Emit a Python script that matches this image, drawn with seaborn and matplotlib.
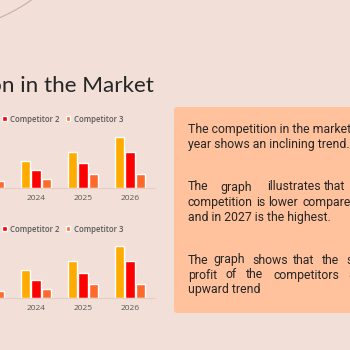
import matplotlib
matplotlib.use("Agg")
import matplotlib.pyplot as plt
import seaborn as sns
import pandas as pd
from matplotlib.patches import FancyBboxPatch, Arc

# ---- data -------------------------------------------------------------
years = ["2023", "2024", "2025", "2026"]
competitors = ["Competitor 1", "Competitor 2", "Competitor 3"]
comp1 = [2.0, 2.7, 3.6, 5.1]
comp2 = [1.3, 1.8, 2.5, 3.6]
comp3 = [0.7, 0.9, 1.4, 1.4]

title = "Competition in the Market"
para1 = ["The competition in the market every", "year shows an inclining trend."]
para2 = [
    ["The", "graph", "illustrates", "that", "the"],
    ["competition", "is", "lower", "compared", "to"],
    "and in 2027 is the highest.",
]
para3 = [
    ["The", "graph", "shows", "that", "the", "sales"],
    ["profit", "of", "the", "competitors", "shows"],
    "upward trend",
]

# ---- style ------------------------------------------------------------
palette = ["#FFAB00", "#FF0000", "#FF6A2C"]
BG = "#F2DFD8"
BOX = "#FFC29D"
GREY = "#595959"
INK = "#262626"

sns.set_theme(style="white")
plt.rcParams["font.family"] = ["Open Sans", "DejaVu Sans"]

W = H = 350
fig = plt.figure(figsize=(3.5, 3.5), dpi=100)
fig.patch.set_facecolor(BG)
renderer = fig.canvas.get_renderer()


def fx(px):
    return px / W


def fy(py):
    return 1 - py / H


df = pd.DataFrame({
    "Year": years * 3,
    "Competitor": [c for c in competitors for _ in years],
    "Value": comp1 + comp2 + comp3,
})


def draw_chart(baseline_px, px_per_unit, legend_px):
    left_px, right_px = 0, 155
    height_px = 140
    ax = fig.add_axes([fx(left_px), fy(baseline_px),
                       (right_px - left_px) / W, height_px / H])
    sns.barplot(data=df, x="Year", y="Value", hue="Competitor",
                palette=palette, saturation=1, width=0.67, gap=0.14,
                ax=ax)
    ax.set_xlim(11 / 47, 166 / 47)
    ax.set_ylim(0, height_px / px_per_unit)
    ax.set_facecolor("none")
    for s in ["left", "right", "top"]:
        ax.spines[s].set_visible(False)
    ax.spines["bottom"].set_color("#E6CEC5")
    ax.spines["bottom"].set_linewidth(0.8)
    ax.set_yticks([])
    ax.set_xlabel("")
    ax.set_ylabel("")
    ax.tick_params(axis="x", length=0, pad=5, labelsize=6, labelcolor=GREY)
    sns.move_legend(
        ax, "center left",
        bbox_to_anchor=(fx(-65), fy(legend_px)),
        bbox_transform=fig.transFigure,
        ncol=3, frameon=False, title=None, borderpad=0,
        handlelength=0.6, handleheight=0.6, handletextpad=0.4,
        columnspacing=0.8, labelcolor=GREY,
        prop={"weight": "semibold", "size": 5.6},
    )
    return ax


draw_chart(188, 10.0, 119)
draw_chart(298, 10.2, 229)

# title, partially running off the left edge
fig.text(fx(154), fy(92.5), title, ha="right", va="baseline",
         fontsize=16.2, family=["Lato", "DejaVu Sans"], weight="normal",
         color=INK)

# decorative arc in the upper-left corner
arc = Arc((-73.4, H + 150), 2 * 183, 2 * 183, transform=None,
          color="#C6AEA8", lw=0.8)
fig.add_artist(arc)

# text panel
box = FancyBboxPatch((fx(174), fy(313)), fx(200), (313 - 107) / H,
                     boxstyle="round,pad=0,rounding_size=0.01",
                     transform=fig.transFigure, facecolor=BOX,
                     edgecolor="none")
fig.add_artist(box)

TXT = dict(fontsize=8.8, color=INK, va="baseline", ha="left",
           family=["Roboto", "DejaVu Sans"])
MIN_GAP = 3.0


def justified_line(words, starts, base):
    """Place words at their justified positions, never closer than a space."""
    end = None
    for w, x in zip(words, starts):
        if end is not None:
            x = max(x, end + MIN_GAP)
        t = fig.text(fx(x), fy(base), w, **TXT)
        end = x + t.get_window_extent(renderer).width


fig.text(fx(188), fy(132.7), para1[0], **TXT)
fig.text(fx(188), fy(147.7), para1[1], **TXT)

word_x2 = [
    [188.0, 220.7, 267.3, 320.7, 360],
    [188.0, 254.0, 265.0, 302.7, 360],
]
for line, xs, base in zip(para2[:2], word_x2, [190.5, 205.5]):
    justified_line(line, xs, base)
fig.text(fx(188), fy(220.5), para2[2], **TXT)

word_x3 = [
    [188.0, 213.3, 252.7, 293.3, 321.7, 346.7],
    [188.0, 226.0, 246.0, 273.3, 348.0],
]
for line, xs, base in zip(para3[:2], word_x3, [263.5, 278.5]):
    justified_line(line, xs, base)
fig.text(fx(188), fy(293.5), para3[2], **TXT)

fig.savefig("out.png", dpi=100, facecolor=BG)
